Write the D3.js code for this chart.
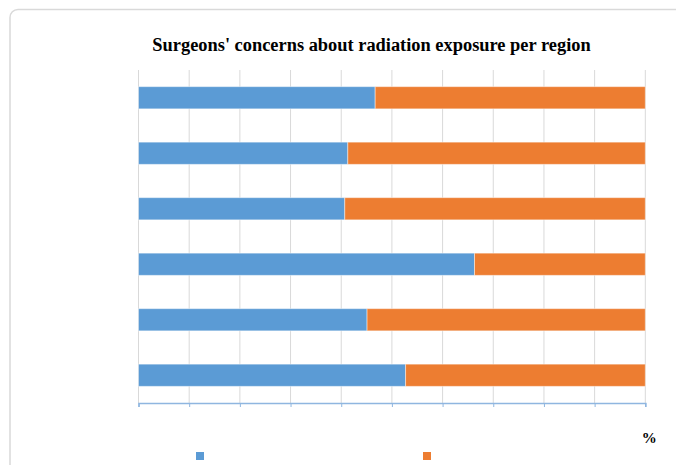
<!DOCTYPE html>
<html>
<head>
<meta charset="utf-8">
<script src="https://cdn.jsdelivr.net/npm/d3@7"></script>
<style>
  html, body { margin: 0; padding: 0; background: #fff; }
  svg { display: block; }
</style>
</head>
<body>
<svg id="chart" width="676" height="465"></svg>
<script>
// Regions, top to bottom, and the share (%) of each answer per region
const regions = ["R1", "R2", "R3", "R4", "R5", "R6"];
const concerned = [46.7, 41.3, 40.7, 66.3, 45.1, 52.7];
const notConcerned = concerned.map(v => +(100 - v).toFixed(1));
const seriesKeys = ["concerned", "notConcerned"];
const seriesColors = ["#5b9bd5", "#ed7d31"];
const xTicks = [0, 10, 20, 30, 40, 50, 60, 70, 80, 90, 100];
const titleText = "Surgeons' concerns about radiation exposure per region";
const unitText = "%";

const rows = regions.map((r, i) => ({ region: r, concerned: concerned[i], notConcerned: notConcerned[i] }));

const svg = d3.select("#chart");
const W = 676, H = 465;
const plot = { left: 138.5, right: 645.3, top: 70, bottom: 403 };

// chart frame with rounded corner
svg.append("rect")
  .attr("x", 10).attr("y", 9.5)
  .attr("width", W + 20).attr("height", H + 20)
  .attr("rx", 8).attr("ry", 8)
  .attr("fill", "#fff")
  .attr("stroke", "#d9d9d9")
  .attr("stroke-width", 1.5);

const x = d3.scaleLinear().domain([0, 100]).range([plot.left, plot.right]);
const y = d3.scaleBand().domain(regions).range([plot.top, plot.bottom]).paddingInner(0.6).paddingOuter(0.3);

// vertical gridlines
svg.append("g")
  .selectAll("line")
  .data(xTicks)
  .join("line")
  .attr("x1", d => x(d)).attr("x2", d => x(d))
  .attr("y1", plot.top).attr("y2", plot.bottom)
  .attr("stroke", "#d9d9d9")
  .attr("stroke-width", 1);

// stacked bars
const stacked = d3.stack().keys(seriesKeys)(rows);
svg.append("g")
  .selectAll("g")
  .data(stacked)
  .join("g")
  .attr("fill", (d, i) => seriesColors[i])
  .selectAll("rect")
  .data(d => d)
  .join("rect")
  .attr("x", d => x(d[0]))
  .attr("width", d => x(d[1]) - x(d[0]))
  .attr("y", d => y(d.data.region))
  .attr("height", y.bandwidth())
  .attr("stroke", "rgba(255,255,255,0.45)")
  .attr("stroke-width", 1);

// bottom axis
const axis = d3.axisBottom(x).tickValues(xTicks).tickSize(4).tickFormat("");
const gAxis = svg.append("g")
  .attr("transform", `translate(0,${plot.bottom})`)
  .call(axis);
gAxis.select(".domain").attr("stroke", "#8fb6e0").attr("stroke-width", 1.5);
gAxis.selectAll(".tick line").attr("stroke", "#8fb6e0");

// title
svg.append("text")
  .attr("x", 371.5).attr("y", 51)
  .attr("text-anchor", "middle")
  .attr("font-family", "'Liberation Serif', 'Times New Roman', serif")
  .attr("font-weight", "bold")
  .attr("font-size", 18.4)
  .attr("fill", "#000")
  .text(titleText);

// unit label
svg.append("text")
  .attr("x", 649.2).attr("y", 443)
  .attr("text-anchor", "middle")
  .attr("font-family", "'Liberation Serif', 'Times New Roman', serif")
  .attr("font-weight", "bold")
  .attr("font-size", 15)
  .attr("fill", "#000")
  .text(unitText);

// legend swatches
const legendX = [196, 423];
svg.append("g")
  .selectAll("rect")
  .data(seriesKeys)
  .join("rect")
  .attr("x", (d, i) => legendX[i])
  .attr("y", 452)
  .attr("width", 8).attr("height", 8)
  .attr("fill", (d, i) => seriesColors[i]);
</script>
</body>
</html>
